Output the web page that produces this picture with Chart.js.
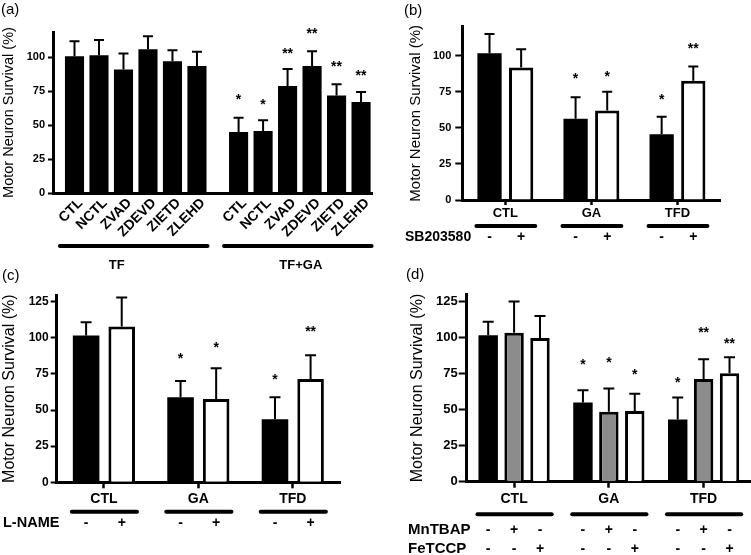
<!DOCTYPE html>
<html><head><meta charset="utf-8">
<script src="https://cdn.jsdelivr.net/npm/chart.js@4"></script>
<style>
html,body{margin:0;padding:0;background:#fff;}
#wrap{position:relative;width:751px;height:555px;overflow:hidden;background:#fff;font-family:'Liberation Sans',Arial,sans-serif;}
canvas{position:absolute;}
.pl{position:absolute;font-size:15px;line-height:15px;color:#000;z-index:5;}
</style></head><body>
<div id="wrap">
<canvas id="ca" width="375" height="275" style="left:0;top:0"></canvas>
<canvas id="cb" width="376" height="275" style="left:375px;top:0"></canvas>
<canvas id="cc" width="375" height="280" style="left:0;top:275px"></canvas>
<canvas id="cd" width="376" height="280" style="left:375px;top:275px"></canvas>
<div class="pl" style="left:1px;top:1px">(a)</div>
<div class="pl" style="left:404px;top:2px">(b)</div>
<div class="pl" style="left:2px;top:267px">(c)</div>
<div class="pl" style="left:406px;top:266px">(d)</div>
</div>
<script>
// ---------- Panel (a) ----------
const aLabels = ['CTL', 'NCTL', 'ZVAD', 'ZDEVD', 'ZIETD', 'ZLEHD'];
const aGroups = ['TF', 'TF+GA'];
const aTF = [100.7, 101.5, 91.0, 105.9, 97.0, 93.6];
const aTFsd = [11.1, 11.2, 11.7, 9.6, 8.2, 10.4];
const aTFstars = ['', '', '', '', '', ''];
const aTFstarAt = [null, null, null, null, null, null];
const aTFGA = [45.0, 45.7, 78.9, 93.6, 71.8, 67.1];
const aTFGAsd = [10.5, 7.9, 12.5, 10.8, 8.3, 7.3];
const aTFGAstars = ['*', '*', '**', '**', '**', '**'];
const aTFGAstarAt = [71.3, 68.0, 105.0, 120.4, 96.0, 89.0];
const aYTicks = [0, 25, 50, 75, 100];

// ---------- Panel (b) ----------
const bCats = ['CTL', 'GA', 'TFD'];
const bRowLabels = ['SB203580'];
const bRowSigns = [['-', '+']];
const bMinus = [101.7, 56.3, 45.5];
const bMinusSd = [13.3, 14.9, 12.2];
const bMinusStars = ['', '*', '*'];
const bMinusStarAt = [null, 86.6, 72.3];
const bPlus = [91.7, 61.9, 82.5];
const bPlusSd = [12.7, 13.1, 9.9];
const bPlusStars = ['', '*', '**'];
const bPlusStarAt = [null, 87.8, 107.4];
const bYTicks = [0, 25, 50, 75, 100];

// ---------- Panel (c) ----------
const cCats = ['CTL', 'GA', 'TFD'];
const cRowLabels = ['L-NAME'];
const cRowSigns = [['-', '+']];
const cMinus = [101.5, 58.8, 43.6];
const cMinusSd = [9.2, 11.3, 15.2];
const cMinusStars = ['', '*', '*'];
const cMinusStarAt = [null, 88.0, 73.5];
const cPlus = [107.8, 57.6, 71.5];
const cPlusSd = [20.0, 21.3, 16.4];
const cPlusStars = ['', '*', '**'];
const cPlusStarAt = [null, 95.7, 106.6];
const cYTicks = [0, 25, 50, 75, 100, 125];

// ---------- Panel (d) ----------
const dCats = ['CTL', 'GA', 'TFD'];
const dRowLabels = ['MnTBAP', 'FeTCCP'];
const dRowSigns = [['-', '+', '-'], ['-', '-', '+']];
const dNone = [101.6, 55.0, 43.2];
const dNoneSd = [9.4, 8.5, 15.2];
const dNoneStars = ['', '*', '*'];
const dNoneStarAt = [null, 83.6, 71.3];
const dMn = [103.4, 48.5, 71.3];
const dMnSd = [21.6, 16.2, 13.7];
const dMnStars = ['', '*', '**'];
const dMnStarAt = [null, 85.2, 105.7];
const dFe = [99.7, 49.0, 75.3];
const dFeSd = [15.3, 12.0, 11.1];
const dFeStars = ['', '*', '**'];
const dFeStarAt = [null, 76.7, 98.6];
const dYTicks = [0, 25, 50, 75, 100, 125];

const yTitle = 'Motor Neuron Survival (%)';
const FONT = "'Liberation Sans', Arial, sans-serif";
Chart.defaults.font.family = FONT;
Chart.defaults.color = '#000';

// error bars + significance stars
function makeErrPlugin(cfg) {
  return {
    id: 'errbars',
    afterDatasetsDraw(chart) {
      const ctx = chart.ctx, ys = chart.scales.y;
      ctx.save();
      chart.data.datasets.forEach((ds, di) => {
        const meta = chart.getDatasetMeta(di);
        meta.data.forEach((el, i) => {
          const val = meta.controller.getParsed(i).y;
          const top = ys.getPixelForValue(val + ds.errors[i]);
          ctx.strokeStyle = '#000';
          ctx.lineWidth = cfg.lw;
          ctx.lineCap = 'butt';
          ctx.beginPath();
          ctx.moveTo(el.x, el.y);
          ctx.lineTo(el.x, top);
          ctx.moveTo(el.x - cfg.cap / 2, top);
          ctx.lineTo(el.x + cfg.cap / 2, top);
          ctx.stroke();
          if (ds.stars[i]) {
            const py = ys.getPixelForValue(ds.starAt[i]);
            ctx.fillStyle = '#000';
            ctx.font = 'bold ' + cfg.star + 'px ' + FONT;
            ctx.textAlign = 'center';
            ctx.textBaseline = 'alphabetic';
            ctx.fillText(ds.stars[i], el.x, py + 0.57 * cfg.star);
          }
        });
      });
      ctx.restore();
    }
  };
}

// ---------- build (a) ----------
const aGap = 0.7;
const aXs = [], aVals = [], aSds = [], aStars = [], aStarAt = [], aTickLabels = [];
[[aTF, aTFsd, aTFstars, aTFstarAt], [aTFGA, aTFGAsd, aTFGAstars, aTFGAstarAt]].forEach((g, gi) => {
  g[0].forEach((v, i) => {
    aXs.push(gi * (aLabels.length + aGap) + i);
    aVals.push(v); aSds.push(g[1][i]); aStars.push(g[2][i]); aStarAt.push(g[3][i]);
    aTickLabels.push(aLabels[i]);
  });
});

const aGroupLabelShift = [-17, 3];
const aGroupPlugin = {
  id: 'groupsA',
  afterDraw(chart) {
    const ctx = chart.ctx, b = chart.chartArea.bottom;
    const meta = chart.getDatasetMeta(0);
    const n = aLabels.length;
    ctx.save();
    aGroups.forEach((g, gi) => {
      const first = meta.data[gi * n], last = meta.data[gi * n + n - 1];
      const l = first.x - first.width / 2 - 5, r = last.x + last.width / 2 + 1;
      ctx.strokeStyle = '#000'; ctx.lineWidth = 4; ctx.lineCap = 'round';
      ctx.beginPath(); ctx.moveTo(l, b + 53); ctx.lineTo(r, b + 53); ctx.stroke();
      ctx.fillStyle = '#000'; ctx.font = 'bold 13px ' + FONT;
      ctx.textAlign = 'center'; ctx.textBaseline = 'middle';
      ctx.fillText(g, (l + r) / 2 + aGroupLabelShift[gi], b + 72);
    });
    ctx.restore();
  }
};

new Chart(document.getElementById('ca'), {
  type: 'bar',
  data: {
    datasets: [{
      data: aXs.map((x, k) => ({ x: x, y: aVals[k] })),
      errors: aSds, stars: aStars, starAt: aStarAt,
      backgroundColor: '#000', borderWidth: 0,
      categoryPercentage: 1, barPercentage: 0.78
    }]
  },
  options: {
    responsive: false, animation: false,
    layout: { padding: { left: 0, right: 2, top: 32, bottom: 0 } },
    plugins: { legend: { display: false }, tooltip: { enabled: false } },
    scales: {
      x: {
        type: 'linear', min: -0.878, max: 12.18, offset: false, z: 1,
        grid: { display: false, drawTicks: false },
        border: { display: true, color: '#000', width: 3 },
        afterBuildTicks: s => { s.ticks = aXs.map(v => ({ value: v })); },
        ticks: { autoSkip: false, minRotation: 45, maxRotation: 45, padding: 2, labelOffset: 6, color: '#000',
          font: { size: 14, weight: 'bold' }, callback: (v, i) => aTickLabels[i] },
        afterFit: s => { s.height = 82; }
      },
      y: {
        min: 0, max: 118.6,
        afterBuildTicks: s => { s.ticks = aYTicks.map(v => ({ value: v })); },
        grid: { drawOnChartArea: false, drawTicks: true, tickLength: 5, tickColor: '#000', tickWidth: 2 },
        border: { display: true, color: '#000', width: 3 },
        ticks: { padding: 3, color: '#000', font: { size: 11, weight: 'bold' } },
        title: { display: true, text: yTitle, color: '#000', font: { size: 14.5 }, padding: 0 },
        afterFit: s => { s.width = 53; }
      }
    }
  },
  plugins: [makeErrPlugin({ cap: 10, lw: 2, star: 14 }), aGroupPlugin]
});

// ---------- grouped panels (b), (c), (d) ----------
function makeRowsPlugin(cfg) {
  return {
    id: 'rows',
    afterDraw(chart) {
      const ctx = chart.ctx, b = chart.chartArea.bottom;
      const n = chart.data.labels.length, nd = chart.data.datasets.length;
      ctx.save();
      ctx.fillStyle = '#000'; ctx.strokeStyle = '#000';
      for (let c = 0; c < n; c++) {
        let l = Infinity, r = -Infinity;
        for (let d = 0; d < nd; d++) {
          const el = chart.getDatasetMeta(d).data[c];
          l = Math.min(l, el.x - el.width / 2);
          r = Math.max(r, el.x + el.width / 2);
        }
        ctx.lineWidth = 4; ctx.lineCap = 'round';
        ctx.beginPath(); ctx.moveTo(l - 1, b + cfg.lineOffset); ctx.lineTo(r + 2, b + cfg.lineOffset); ctx.stroke();
        cfg.rowSigns.forEach((signs, k) => {
          signs.forEach((s, d) => {
            const el = chart.getDatasetMeta(d).data[c];
            ctx.font = 'bold 14px ' + FONT;
            ctx.textAlign = 'center'; ctx.textBaseline = 'middle';
            ctx.fillText(s, el.x, b + cfg.rowOffsets[k]);
          });
        });
      }
      cfg.rowLabels.forEach((t, k) => {
        ctx.font = 'bold ' + cfg.labelSize + 'px ' + FONT;
        ctx.textAlign = 'left'; ctx.textBaseline = 'middle';
        ctx.fillText(t, cfg.labelX, b + cfg.rowOffsets[k]);
      });
      ctx.restore();
    }
  };
}

function groupedChart(id, p) {
  return new Chart(document.getElementById(id), {
    type: 'bar',
    data: {
      labels: p.cats,
      datasets: p.series.map(s => ({
        data: s.vals, errors: s.sd, stars: s.stars, starAt: s.starAt,
        backgroundColor: s.fill, borderColor: '#000', borderWidth: s.border,
        borderSkipped: 'start',
        categoryPercentage: p.catPct, barPercentage: p.barPct
      }))
    },
    options: {
      responsive: false, animation: false,
      layout: { padding: p.pad },
      plugins: { legend: { display: false }, tooltip: { enabled: false } },
      scales: {
        x: {
          offset: true, z: 1,
          grid: { offset: false, drawOnChartArea: false, drawTicks: true, tickLength: p.xTick, tickColor: '#000', tickWidth: 2.5 },
          border: { display: true, color: '#000', width: 3 },
          ticks: { padding: p.xPad, color: '#000', font: { size: p.catSize, weight: 'bold' } },
          afterFit: s => { s.height = p.xH; }
        },
        y: {
          min: 0, max: p.yMax,
          afterBuildTicks: s => { s.ticks = p.yTicks.map(v => ({ value: v })); },
          grid: { drawOnChartArea: false, drawTicks: true, tickLength: p.yTick, tickColor: '#000', tickWidth: 2 },
          border: { display: true, color: '#000', width: 3 },
          ticks: { padding: p.yPad, color: '#000', font: { size: p.tickSize, weight: 'bold' } },
          title: { display: true, text: yTitle, color: '#000', font: { size: p.titleSize }, padding: 0 },
          afterFit: s => { s.width = p.yW; }
        }
      }
    },
    plugins: [makeErrPlugin({ cap: p.cap, lw: 2, star: 14 }), makeRowsPlugin(p.rows)]
  });
}

groupedChart('cb', {
  cats: bCats,
  series: [
    { vals: bMinus, sd: bMinusSd, stars: bMinusStars, starAt: bMinusStarAt, fill: '#000', border: 0 },
    { vals: bPlus, sd: bPlusSd, stars: bPlusStars, starAt: bPlusStarAt, fill: '#fff', border: 3 }
  ],
  catPct: 0.735, barPct: 0.767,
  pad: { left: 32, right: 30.5, top: 26.7, bottom: 0 },
  yW: 55.3, xH: 75, yMax: 120, yTicks: bYTicks,
  xTick: 5, xPad: 1, yTick: 7, yPad: 4,
  catSize: 13, tickSize: 11, titleSize: 15, cap: 10,
  rows: { lineOffset: 26, rowOffsets: [37], rowLabels: bRowLabels, rowSigns: bRowSigns, labelX: 30, labelSize: 14 }
});

groupedChart('cc', {
  cats: cCats,
  series: [
    { vals: cMinus, sd: cMinusSd, stars: cMinusStars, starAt: cMinusStarAt, fill: '#000', border: 0 },
    { vals: cPlus, sd: cPlusSd, stars: cPlusStars, starAt: cPlusStarAt, fill: '#fff', border: 3 }
  ],
  catPct: 0.754, barPct: 0.746,
  pad: { left: 0, right: 35, top: 20, bottom: 0 },
  yW: 56.7, xH: 72.7, yMax: 129.6, yTicks: cYTicks,
  xTick: 6, xPad: 2, yTick: 6, yPad: 2,
  catSize: 14, tickSize: 12, titleSize: 16, cap: 11,
  rows: { lineOffset: 29.4, rowOffsets: [41], rowLabels: cRowLabels, rowSigns: cRowSigns, labelX: 3, labelSize: 14.5 }
});

groupedChart('cd', {
  cats: dCats,
  series: [
    { vals: dNone, sd: dNoneSd, stars: dNoneStars, starAt: dNoneStarAt, fill: '#000', border: 0 },
    { vals: dMn, sd: dMnSd, stars: dMnStars, starAt: dMnStarAt, fill: '#8c8c8c', border: 3 },
    { vals: dFe, sd: dFeSd, stars: dFeStars, starAt: dFeStarAt, fill: '#fff', border: 3 }
  ],
  catPct: 0.82, barPct: 0.75,
  pad: { left: 32.7, right: 0, top: 19.3, bottom: 0 },
  yW: 59, xH: 73.3, yMax: 130, yTicks: dYTicks,
  xTick: 6, xPad: 3.5, yTick: 8, yPad: 1,
  catSize: 14, tickSize: 13, titleSize: 16, cap: 11,
  rows: { lineOffset: 32.6, rowOffsets: [48.3, 67.3], rowLabels: dRowLabels, rowSigns: dRowSigns, labelX: 33, labelSize: 15 }
});
</script>
</body></html>
